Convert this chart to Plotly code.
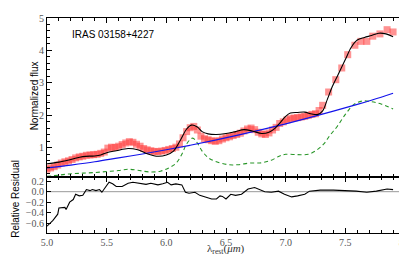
import plotly.graph_objects as go

# Observed spectrum (red squares)
obs_wl = [5.00, 5.03, 5.06, 5.09, 5.12, 5.15, 5.18, 5.21, 5.24, 5.27, 5.30, 5.33, 5.36, 5.39,
          5.42, 5.45, 5.48, 5.51, 5.54, 5.57, 5.60, 5.63, 5.66, 5.69, 5.72, 5.75, 5.78, 5.81,
          5.84, 5.87, 5.90, 5.93, 5.96, 5.99, 6.02, 6.05, 6.08, 6.11, 6.14, 6.17, 6.20, 6.23,
          6.26, 6.29, 6.32, 6.35, 6.38, 6.41, 6.44, 6.47, 6.50, 6.53, 6.56, 6.59, 6.62, 6.65,
          6.68, 6.71, 6.74, 6.77, 6.80, 6.83, 6.86, 6.89, 6.92, 6.95, 6.98, 7.01, 7.04, 7.07,
          7.10, 7.13, 7.16, 7.19, 7.22, 7.25, 7.28, 7.31, 7.36, 7.42, 7.47, 7.52, 7.58, 7.63,
          7.68, 7.73, 7.79, 7.85, 7.90]
obs_flux = [0.34, 0.38, 0.42, 0.47, 0.53, 0.57, 0.60, 0.64, 0.69, 0.72, 0.74, 0.77, 0.78, 0.79,
            0.80, 0.83, 0.87, 0.99, 1.02, 1.01, 1.05, 1.10, 1.15, 1.19, 1.17, 1.11, 1.05, 0.98,
            0.94, 0.91, 0.89, 0.88, 0.90, 0.92, 0.95, 0.98, 1.02, 1.12, 1.31, 1.50, 1.62, 1.66,
            1.55, 1.36, 1.28, 1.25, 1.22, 1.20, 1.22, 1.27, 1.31, 1.34, 1.38, 1.41, 1.45, 1.52,
            1.58, 1.61, 1.56, 1.48, 1.43, 1.41, 1.46, 1.55, 1.63, 1.75, 1.80, 1.86, 1.90, 1.92,
            1.93, 1.95, 1.97, 2.00, 2.03, 2.05, 2.15, 2.31, 2.72, 3.10, 3.46, 3.87, 4.16, 4.28,
            4.28, 4.44, 4.51, 4.64, 4.57]

# Total model (black)
model_wl = [5.00, 5.10, 5.20, 5.30, 5.40, 5.45, 5.50, 5.58, 5.68, 5.76, 5.84, 5.93, 6.00, 6.06,
            6.12, 6.17, 6.21, 6.26, 6.30, 6.35, 6.42, 6.50, 6.58, 6.65, 6.72, 6.80, 6.86, 6.91,
            6.96, 7.00, 7.04, 7.10, 7.16, 7.22, 7.27, 7.31, 7.35, 7.39, 7.44, 7.50, 7.55, 7.60,
            7.66, 7.72, 7.78, 7.84, 7.90]
model_flux = [0.51, 0.56, 0.64, 0.73, 0.75, 0.78, 0.85, 0.91, 0.98, 0.94, 0.82, 0.74, 0.78, 0.90,
              1.25, 1.58, 1.70, 1.64, 1.50, 1.43, 1.41, 1.44, 1.50, 1.56, 1.52, 1.44, 1.48, 1.60,
              1.80, 1.97, 2.07, 2.09, 2.10, 2.04, 2.03, 2.14, 2.50, 2.88, 3.26, 3.72, 4.10, 4.32,
              4.40, 4.46, 4.53, 4.51, 4.42]

# Continuum (blue)
cont_wl = [5.0, 5.2, 5.4, 5.6, 5.8, 6.0, 6.2, 6.4, 6.6, 6.8, 7.0, 7.2, 7.4, 7.6, 7.8, 7.9]
cont_flux = [0.38, 0.47, 0.57, 0.69, 0.81, 0.94, 1.08, 1.23, 1.39, 1.56, 1.74, 1.93, 2.13, 2.34, 2.56, 2.68]

# PAH / feature component (green dashed)
comp_wl = [5.00, 5.10, 5.20, 5.30, 5.40, 5.50, 5.60, 5.68, 5.76, 5.85, 5.95, 6.02, 6.08, 6.13,
           6.17, 6.22, 6.26, 6.30, 6.35, 6.42, 6.52, 6.60, 6.70, 6.80, 6.88, 6.95, 7.00, 7.10,
           7.19, 7.26, 7.32, 7.37, 7.43, 7.50, 7.57, 7.64, 7.72, 7.80, 7.90]
comp_flux = [0.12, 0.16, 0.20, 0.22, 0.24, 0.27, 0.30, 0.34, 0.31, 0.26, 0.28, 0.38, 0.52, 0.80,
             1.12, 1.30, 1.15, 0.90, 0.70, 0.57, 0.48, 0.48, 0.53, 0.54, 0.62, 0.75, 0.80, 0.79,
             0.80, 0.93, 1.12, 1.38, 1.65, 2.03, 2.33, 2.44, 2.42, 2.35, 2.20]

# Relative residual
res_wl = [5.00, 5.05, 5.09, 5.10, 5.15, 5.16, 5.19, 5.22, 5.24, 5.27, 5.30, 5.33, 5.36, 5.38,
          5.41, 5.44, 5.46, 5.50, 5.52, 5.55, 5.58, 5.63, 5.68, 5.72, 5.78, 5.83, 5.87, 5.93,
          5.97, 6.01, 6.04, 6.08, 6.13, 6.16, 6.19, 6.24, 6.28, 6.34, 6.38, 6.42, 6.45, 6.47,
          6.50, 6.54, 6.58, 6.63, 6.685, 6.74, 6.78, 6.825, 6.88, 6.94, 6.99, 7.05, 7.10, 7.16,
          7.20, 7.29, 7.40, 7.51, 7.59, 7.68, 7.76, 7.85, 7.90]
res_val = [-0.66, -0.55, -0.43, -0.31, -0.30, -0.34, -0.20, -0.15, -0.05, -0.08, -0.07, 0.04,
           0.02, 0.04, 0.02, 0.04, -0.01, 0.11, 0.18, 0.15, 0.10, 0.10, 0.16, 0.18, 0.16, 0.14,
           0.16, 0.13, 0.15, 0.18, 0.13, 0.15, 0.13, -0.01, -0.03, -0.01, -0.07, -0.11, -0.14,
           -0.14, -0.08, -0.09, -0.14, -0.05, -0.07, -0.05, 0.05, 0.08, 0.04, 0.00, -0.01, 0.01,
           -0.05, -0.10, -0.08, -0.05, 0.01, 0.03, 0.03, 0.02, 0.01, -0.01, 0.01, 0.05, 0.04]

x_ticks = [5.0, 5.5, 6.0, 6.5, 7.0, 7.5, 8.0]
x_ticklabels = ["5.0", "5.5", "6.0", "6.5", "7.0", "7.5", "8.0"]
top_ticks = [1, 2, 3, 4, 5]
res_ticks = [-0.6, -0.4, -0.2, 0.0, 0.2]
res_ticklabels = ["\u22120.6", "\u22120.4", "\u22120.2", "0.0", "0.2"]

fig = go.Figure()

fig.add_trace(go.Scatter(x=obs_wl, y=obs_flux, mode="markers",
                         marker=dict(symbol="square", size=7, color="rgba(255,40,40,0.5)",
                                     line=dict(width=0)),
                         xaxis="x", yaxis="y", showlegend=False))
fig.add_trace(go.Scatter(x=comp_wl, y=comp_flux, mode="lines", line_shape="spline",
                         line=dict(color="rgb(40,150,40)", width=1.1, dash="4px,3px"),
                         xaxis="x", yaxis="y", showlegend=False))
fig.add_trace(go.Scatter(x=cont_wl, y=cont_flux, mode="lines", line_shape="spline",
                         line=dict(color="rgb(20,20,235)", width=1.2),
                         xaxis="x", yaxis="y", showlegend=False))
fig.add_trace(go.Scatter(x=model_wl, y=model_flux, mode="lines", line_shape="spline",
                         line=dict(color="black", width=1.1),
                         xaxis="x", yaxis="y", showlegend=False))

fig.add_trace(go.Scatter(x=[5.0, 8.0], y=[0, 0], mode="lines",
                         line=dict(color="gray", width=0.8),
                         xaxis="x2", yaxis="y2", showlegend=False))
fig.add_trace(go.Scatter(x=res_wl, y=res_val, mode="lines",
                         line=dict(color="black", width=1.1),
                         xaxis="x2", yaxis="y2", showlegend=False))

tickfont = dict(family="Liberation Serif", size=10, color="#555")
axcommon = dict(showline=True, linecolor="black", linewidth=1, mirror="ticks",
                ticks="inside", tickcolor="black", showgrid=False, zeroline=False,
                automargin=False)

split = (225 - 169.3) / 214.0

fig.update_layout(
    width=407, height=254,
    margin=dict(l=39, r=10, t=10, b=29),
    paper_bgcolor="white", plot_bgcolor="white",
    xaxis=dict(domain=[0, 1], range=[5.0, 8.0], anchor="y", tickvals=x_ticks,
               showticklabels=False, ticklen=5,
               minor=dict(ticks="inside", dtick=0.1, ticklen=3, tickcolor="black"),
               **axcommon),
    yaxis=dict(domain=[split, 1], range=[0.1, 5.0], anchor="x", tickvals=top_ticks,
               ticktext=[str(t) for t in top_ticks], tickfont=tickfont, ticklen=5,
               minor=dict(ticks="inside", dtick=0.2, ticklen=3, tickcolor="black"),
               **axcommon),
    xaxis2=dict(domain=[0, 1], range=[5.0, 8.0], anchor="y2", tickvals=x_ticks,
                ticktext=x_ticklabels, tickfont=tickfont, ticklen=5,
                minor=dict(ticks="inside", dtick=0.1, ticklen=3, tickcolor="black"),
                **axcommon),
    yaxis2=dict(domain=[0, split], range=[-0.79, 0.28], anchor="x2", tickvals=res_ticks,
                ticktext=res_ticklabels, tickfont=tickfont, ticklen=4,
                **axcommon),
    annotations=[
        dict(x=5.19, y=4.48, xref="x", yref="y", text="IRAS 03158+4227",
             showarrow=False, xanchor="left", yanchor="middle",
             font=dict(family="Liberation Sans", size=10, color="black")),
        dict(x=0, y=(225 - 89) / 214.0, xref="paper", yref="paper", xshift=-13,
             text="Normalized flux", textangle=-90, showarrow=False,
             xanchor="center", yanchor="middle",
             font=dict(family="Liberation Sans", size=10, color="black")),
        dict(x=0, y=(225 - 191) / 214.0, xref="paper", yref="paper", xshift=-31,
             text="Relative Residual", textangle=-90, showarrow=False,
             xanchor="center", yanchor="middle",
             font=dict(family="Liberation Sans", size=10, color="black")),
        dict(x=0.5, y=(225 - 241) / 214.0, xref="paper", yref="paper",
             text="\u03bb<sub>rest</sub>(<i>\u03bcm</i>)", showarrow=False,
             xanchor="center", yanchor="middle",
             font=dict(family="Liberation Serif", size=11, color="#333")),
    ],
)

fig.write_html("out.html")
